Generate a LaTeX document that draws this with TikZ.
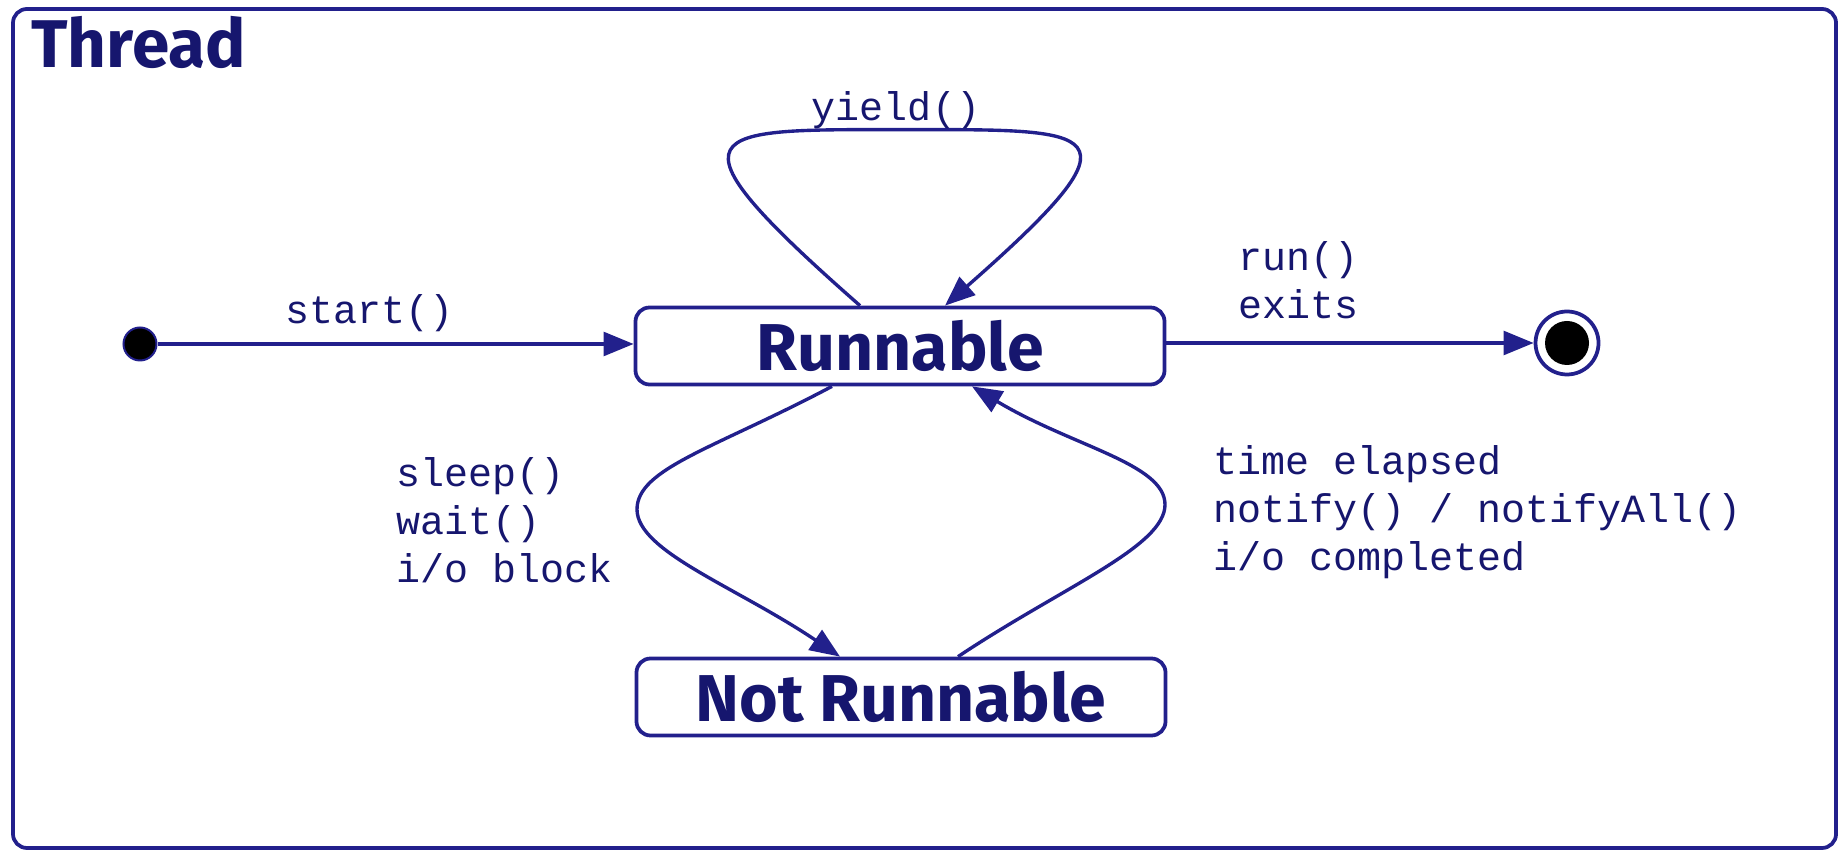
\documentclass[tikz,border=0pt]{standalone}
\usepackage{fontspec}
\setmainfont{Fira Sans}
\newfontfamily\codefont{Liberation Mono}
\usetikzlibrary{arrows.meta,calc}
\definecolor{umlblue}{RGB}{34,32,140}
\definecolor{umltext}{RGB}{22,22,110}

\begin{document}
\begin{tikzpicture}[x=0.4pt,y=-0.4pt,
  frame/.style={draw=umlblue, line width=1.5pt, rounded corners=5.6pt,
    minimum width=729.2pt, minimum height=335.6pt, inner sep=0pt},
  title/.style={font=\bfseries\fontsize{27}{30}\selectfont, text=umltext, inner sep=0pt},
  statebox/.style={draw=umlblue, line width=1.5pt, rounded corners=5.6pt,
    minimum width=211.6pt, minimum height=30.8pt, inner sep=0pt,
    font=\bfseries\fontsize{26.5}{30}\selectfont, text=umltext},
  initdot/.style={circle, fill=black, draw=umlblue, line width=0.8pt,
    minimum size=13.2pt, inner sep=0pt},
  finalring/.style={circle, draw=umlblue, line width=1.5pt, fill=white,
    minimum size=25.2pt, inner sep=0pt},
  finalcore/.style={circle, fill=black, minimum size=17.6pt, inner sep=0pt},
  lbl/.style={font=\codefont\fontsize{16}{19.2}\selectfont, text=umltext,
    align=left, inner sep=0pt},
  edge/.style={draw=umlblue, line width=1.35pt,
    -{Triangle[length=12pt,width=9.5pt]}}
]
\useasboundingbox (0,0) rectangle (1838,850);

% enclosing composite state
\node[frame] (thread) at (924.5,428.5) {};
\node[title, anchor=base west] (threadname) at (31,68) {Thread};

% states
\node[statebox] (run) at (900,346) {Runnable};
\node[statebox] (notrun) at (901,697) {Not Runnable};
\node[initdot] (init) at (140,344) {};
\node[finalring] (fin) at (1567,343) {};
\node[finalcore] (fincore) at (fin) {};

% transitions
\draw[edge] (init) -- (init -| run.west);
\draw[edge] (run.east |- fin) -- (fin.west);

% yield() self loop
\draw[edge] ($(run.north)+(-40,0)$)
  .. controls ($(run.north)+(-245,-180)$) and ($(run.north)+(-195,-176)$) .. ($(run.north)+(2,-176)$)
  .. controls ($(run.north)+(200,-176)$) and ($(run.north)+(250,-180)$) .. ($(run.north)+(45,0)$);

% blocking transition
\draw[edge] ($(run.south)+(-68,0)$)
  .. controls ($(run.south)+(-185,62)$) and ($(run.south)+(-263,82)$) .. ($(run.south)+(-263,123)$)
  .. controls ($(run.south)+(-263,165)$) and ($(notrun.north)+(-165,-70)$) .. ($(notrun.north)+(-61,0)$);

% unblocking transition
\draw[edge] ($(notrun.north)+(57,0)$)
  .. controls ($(notrun.north)+(162,-70)$) and ($(notrun.north)+(264,-110)$) .. ($(notrun.north)+(264,-152)$)
  .. controls ($(notrun.north)+(264,-193)$) and ($(run.south)+(172,60)$) .. ($(run.south)+(72,0)$);

% labels
\node[lbl] (lstart) at (370,313) {start()};
\node[lbl] (lyield) at (896,110) {yield()};
\node[lbl, anchor=west] (lexit) at (1238,280) {run()\\exits};
\node[lbl, anchor=west] (lblock) at (396,520) {sleep()\\wait()\\i/o block};
\node[lbl, anchor=west] (lwake) at (1213,512) {time elapsed\\notify() / notifyAll()\\i/o completed};
\end{tikzpicture}
\end{document}
